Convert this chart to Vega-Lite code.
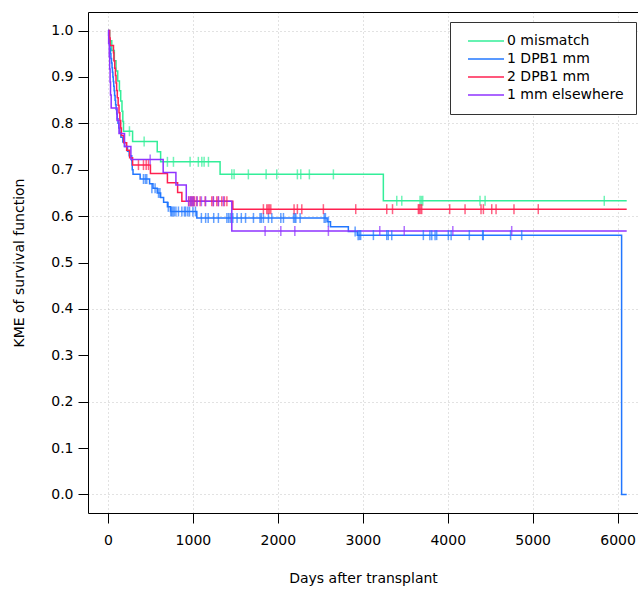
{
  "$schema": "https://vega.github.io/schema/vega-lite/v6.json",
  "width": 550,
  "height": 501,
  "autosize": {"type": "none"},
  "padding": {"left": 88, "top": 12, "right": 0, "bottom": 77},
  "background": "white",
  "config": {
    "view": {"stroke": null},
    "font": "DejaVu Sans",
    "axis": {
      "labelFont": "DejaVu Sans", "labelFontSize": 14, "labelColor": "black",
      "titleFont": "DejaVu Sans", "titleFontSize": 14, "titleFontWeight": "normal", "titleColor": "black",
      "domainColor": "black", "domainWidth": 1, "tickColor": "black", "tickSize": 10, "tickWidth": 1,
      "gridColor": "#c4c4c4", "gridDash": [1, 3], "gridWidth": 1
    },
    "legend": {
      "orient": "none", "legendX": 362, "legendY": 10,
      "symbolType": "stroke", "symbolSize": 1296, "symbolStrokeWidth": 1.5,
      "labelFont": "DejaVu Sans", "labelFontSize": 14, "labelColor": "black",
      "strokeColor": "#333333", "fillColor": "white", "padding": 12,
      "rowPadding": 4, "labelOffset": 2, "clipHeight": 14, "symbolOffset": 5
    }
  },
  "datasets": {
    "curves": [
      {"g": "0 mismatch", "t": 0, "s": 1},
      {"g": "0 mismatch", "t": 20, "s": 0.978},
      {"g": "0 mismatch", "t": 45, "s": 0.957},
      {"g": "0 mismatch", "t": 75, "s": 0.935},
      {"g": "0 mismatch", "t": 95, "s": 0.913},
      {"g": "0 mismatch", "t": 115, "s": 0.891},
      {"g": "0 mismatch", "t": 135, "s": 0.87},
      {"g": "0 mismatch", "t": 150, "s": 0.848},
      {"g": "0 mismatch", "t": 165, "s": 0.826},
      {"g": "0 mismatch", "t": 175, "s": 0.804},
      {"g": "0 mismatch", "t": 183, "s": 0.783},
      {"g": "0 mismatch", "t": 290, "s": 0.761},
      {"g": "0 mismatch", "t": 580, "s": 0.739},
      {"g": "0 mismatch", "t": 620, "s": 0.717},
      {"g": "0 mismatch", "t": 1320, "s": 0.69},
      {"g": "0 mismatch", "t": 3242, "s": 0.633},
      {"g": "0 mismatch", "t": 6107, "s": 0.633},

      {"g": "1 DPB1 mm", "t": 0, "s": 1},
      {"g": "1 DPB1 mm", "t": 8, "s": 0.99},
      {"g": "1 DPB1 mm", "t": 15, "s": 0.98},
      {"g": "1 DPB1 mm", "t": 20, "s": 0.97},
      {"g": "1 DPB1 mm", "t": 25, "s": 0.96},
      {"g": "1 DPB1 mm", "t": 30, "s": 0.95},
      {"g": "1 DPB1 mm", "t": 35, "s": 0.94},
      {"g": "1 DPB1 mm", "t": 42, "s": 0.93},
      {"g": "1 DPB1 mm", "t": 48, "s": 0.92},
      {"g": "1 DPB1 mm", "t": 53, "s": 0.91},
      {"g": "1 DPB1 mm", "t": 58, "s": 0.9},
      {"g": "1 DPB1 mm", "t": 63, "s": 0.89},
      {"g": "1 DPB1 mm", "t": 68, "s": 0.88},
      {"g": "1 DPB1 mm", "t": 73, "s": 0.87},
      {"g": "1 DPB1 mm", "t": 78, "s": 0.86},
      {"g": "1 DPB1 mm", "t": 84, "s": 0.85},
      {"g": "1 DPB1 mm", "t": 90, "s": 0.84},
      {"g": "1 DPB1 mm", "t": 96, "s": 0.83},
      {"g": "1 DPB1 mm", "t": 103, "s": 0.82},
      {"g": "1 DPB1 mm", "t": 110, "s": 0.81},
      {"g": "1 DPB1 mm", "t": 118, "s": 0.8},
      {"g": "1 DPB1 mm", "t": 128, "s": 0.79},
      {"g": "1 DPB1 mm", "t": 140, "s": 0.78},
      {"g": "1 DPB1 mm", "t": 152, "s": 0.77},
      {"g": "1 DPB1 mm", "t": 175, "s": 0.76},
      {"g": "1 DPB1 mm", "t": 195, "s": 0.75},
      {"g": "1 DPB1 mm", "t": 230, "s": 0.74},
      {"g": "1 DPB1 mm", "t": 250, "s": 0.73},
      {"g": "1 DPB1 mm", "t": 280, "s": 0.72},
      {"g": "1 DPB1 mm", "t": 283, "s": 0.71},
      {"g": "1 DPB1 mm", "t": 286, "s": 0.7},
      {"g": "1 DPB1 mm", "t": 295, "s": 0.69},
      {"g": "1 DPB1 mm", "t": 379, "s": 0.68},
      {"g": "1 DPB1 mm", "t": 490, "s": 0.67},
      {"g": "1 DPB1 mm", "t": 530, "s": 0.66},
      {"g": "1 DPB1 mm", "t": 580, "s": 0.65},
      {"g": "1 DPB1 mm", "t": 620, "s": 0.64},
      {"g": "1 DPB1 mm", "t": 655, "s": 0.63},
      {"g": "1 DPB1 mm", "t": 700, "s": 0.62},
      {"g": "1 DPB1 mm", "t": 735, "s": 0.61},
      {"g": "1 DPB1 mm", "t": 1046, "s": 0.596},
      {"g": "1 DPB1 mm", "t": 2580, "s": 0.588},
      {"g": "1 DPB1 mm", "t": 2620, "s": 0.577},
      {"g": "1 DPB1 mm", "t": 2830, "s": 0.567},
      {"g": "1 DPB1 mm", "t": 2935, "s": 0.559},
      {"g": "1 DPB1 mm", "t": 6047, "s": 0},
      {"g": "1 DPB1 mm", "t": 6107, "s": 0},

      {"g": "2 DPB1 mm", "t": 0, "s": 1},
      {"g": "2 DPB1 mm", "t": 20, "s": 0.984},
      {"g": "2 DPB1 mm", "t": 26, "s": 0.968},
      {"g": "2 DPB1 mm", "t": 65, "s": 0.952},
      {"g": "2 DPB1 mm", "t": 70, "s": 0.935},
      {"g": "2 DPB1 mm", "t": 80, "s": 0.919},
      {"g": "2 DPB1 mm", "t": 88, "s": 0.903},
      {"g": "2 DPB1 mm", "t": 95, "s": 0.887},
      {"g": "2 DPB1 mm", "t": 102, "s": 0.871},
      {"g": "2 DPB1 mm", "t": 110, "s": 0.855},
      {"g": "2 DPB1 mm", "t": 120, "s": 0.839},
      {"g": "2 DPB1 mm", "t": 130, "s": 0.823},
      {"g": "2 DPB1 mm", "t": 140, "s": 0.806},
      {"g": "2 DPB1 mm", "t": 150, "s": 0.79},
      {"g": "2 DPB1 mm", "t": 158, "s": 0.774},
      {"g": "2 DPB1 mm", "t": 185, "s": 0.758},
      {"g": "2 DPB1 mm", "t": 220, "s": 0.742},
      {"g": "2 DPB1 mm", "t": 255, "s": 0.726},
      {"g": "2 DPB1 mm", "t": 290, "s": 0.71},
      {"g": "2 DPB1 mm", "t": 500, "s": 0.692},
      {"g": "2 DPB1 mm", "t": 700, "s": 0.672},
      {"g": "2 DPB1 mm", "t": 820, "s": 0.651},
      {"g": "2 DPB1 mm", "t": 870, "s": 0.632},
      {"g": "2 DPB1 mm", "t": 1470, "s": 0.615},
      {"g": "2 DPB1 mm", "t": 6107, "s": 0.615},

      {"g": "1 mm elsewhere", "t": 0, "s": 1},
      {"g": "1 mm elsewhere", "t": 8, "s": 0.972},
      {"g": "1 mm elsewhere", "t": 15, "s": 0.944},
      {"g": "1 mm elsewhere", "t": 20, "s": 0.917},
      {"g": "1 mm elsewhere", "t": 25, "s": 0.889},
      {"g": "1 mm elsewhere", "t": 30, "s": 0.861},
      {"g": "1 mm elsewhere", "t": 38, "s": 0.833},
      {"g": "1 mm elsewhere", "t": 107, "s": 0.806},
      {"g": "1 mm elsewhere", "t": 130, "s": 0.778},
      {"g": "1 mm elsewhere", "t": 195, "s": 0.75},
      {"g": "1 mm elsewhere", "t": 270, "s": 0.722},
      {"g": "1 mm elsewhere", "t": 650, "s": 0.694},
      {"g": "1 mm elsewhere", "t": 800, "s": 0.667},
      {"g": "1 mm elsewhere", "t": 922, "s": 0.632},
      {"g": "1 mm elsewhere", "t": 1458, "s": 0.568},
      {"g": "1 mm elsewhere", "t": 6107, "s": 0.568}
    ],
    "censors": [
      {"g": "0 mismatch", "t": 253, "s": 0.783},
      {"g": "0 mismatch", "t": 426, "s": 0.761},
      {"g": "0 mismatch", "t": 700, "s": 0.717},
      {"g": "0 mismatch", "t": 771, "s": 0.717},
      {"g": "0 mismatch", "t": 967, "s": 0.717},
      {"g": "0 mismatch", "t": 1064, "s": 0.717},
      {"g": "0 mismatch", "t": 1105, "s": 0.717},
      {"g": "0 mismatch", "t": 1132, "s": 0.717},
      {"g": "0 mismatch", "t": 1183, "s": 0.717},
      {"g": "0 mismatch", "t": 1458, "s": 0.69},
      {"g": "0 mismatch", "t": 1485, "s": 0.69},
      {"g": "0 mismatch", "t": 1653, "s": 0.69},
      {"g": "0 mismatch", "t": 1862, "s": 0.69},
      {"g": "0 mismatch", "t": 1987, "s": 0.69},
      {"g": "0 mismatch", "t": 2230, "s": 0.69},
      {"g": "0 mismatch", "t": 2270, "s": 0.69},
      {"g": "0 mismatch", "t": 2371, "s": 0.69},
      {"g": "0 mismatch", "t": 2654, "s": 0.69},
      {"g": "0 mismatch", "t": 3400, "s": 0.633},
      {"g": "0 mismatch", "t": 3459, "s": 0.633},
      {"g": "0 mismatch", "t": 3674, "s": 0.633},
      {"g": "0 mismatch", "t": 3690, "s": 0.633},
      {"g": "0 mismatch", "t": 3706, "s": 0.633},
      {"g": "0 mismatch", "t": 4380, "s": 0.633},
      {"g": "0 mismatch", "t": 4440, "s": 0.633},
      {"g": "0 mismatch", "t": 5843, "s": 0.633},

      {"g": "1 DPB1 mm", "t": 418, "s": 0.68},
      {"g": "1 DPB1 mm", "t": 440, "s": 0.68},
      {"g": "1 DPB1 mm", "t": 457, "s": 0.68},
      {"g": "1 DPB1 mm", "t": 517, "s": 0.66},
      {"g": "1 DPB1 mm", "t": 555, "s": 0.66},
      {"g": "1 DPB1 mm", "t": 595, "s": 0.65},
      {"g": "1 DPB1 mm", "t": 612, "s": 0.65},
      {"g": "1 DPB1 mm", "t": 710, "s": 0.62},
      {"g": "1 DPB1 mm", "t": 740, "s": 0.61},
      {"g": "1 DPB1 mm", "t": 750, "s": 0.61},
      {"g": "1 DPB1 mm", "t": 765, "s": 0.61},
      {"g": "1 DPB1 mm", "t": 780, "s": 0.61},
      {"g": "1 DPB1 mm", "t": 800, "s": 0.61},
      {"g": "1 DPB1 mm", "t": 830, "s": 0.61},
      {"g": "1 DPB1 mm", "t": 870, "s": 0.61},
      {"g": "1 DPB1 mm", "t": 900, "s": 0.61},
      {"g": "1 DPB1 mm", "t": 915, "s": 0.61},
      {"g": "1 DPB1 mm", "t": 940, "s": 0.61},
      {"g": "1 DPB1 mm", "t": 960, "s": 0.61},
      {"g": "1 DPB1 mm", "t": 1000, "s": 0.61},
      {"g": "1 DPB1 mm", "t": 1030, "s": 0.61},
      {"g": "1 DPB1 mm", "t": 1100, "s": 0.596},
      {"g": "1 DPB1 mm", "t": 1150, "s": 0.596},
      {"g": "1 DPB1 mm", "t": 1180, "s": 0.596},
      {"g": "1 DPB1 mm", "t": 1245, "s": 0.596},
      {"g": "1 DPB1 mm", "t": 1300, "s": 0.596},
      {"g": "1 DPB1 mm", "t": 1400, "s": 0.596},
      {"g": "1 DPB1 mm", "t": 1420, "s": 0.596},
      {"g": "1 DPB1 mm", "t": 1440, "s": 0.596},
      {"g": "1 DPB1 mm", "t": 1470, "s": 0.596},
      {"g": "1 DPB1 mm", "t": 1520, "s": 0.596},
      {"g": "1 DPB1 mm", "t": 1570, "s": 0.596},
      {"g": "1 DPB1 mm", "t": 1620, "s": 0.596},
      {"g": "1 DPB1 mm", "t": 1713, "s": 0.596},
      {"g": "1 DPB1 mm", "t": 1790, "s": 0.596},
      {"g": "1 DPB1 mm", "t": 1805, "s": 0.596},
      {"g": "1 DPB1 mm", "t": 1830, "s": 0.596},
      {"g": "1 DPB1 mm", "t": 1889, "s": 0.596},
      {"g": "1 DPB1 mm", "t": 1929, "s": 0.596},
      {"g": "1 DPB1 mm", "t": 2035, "s": 0.596},
      {"g": "1 DPB1 mm", "t": 2066, "s": 0.596},
      {"g": "1 DPB1 mm", "t": 2185, "s": 0.596},
      {"g": "1 DPB1 mm", "t": 2200, "s": 0.596},
      {"g": "1 DPB1 mm", "t": 2212, "s": 0.596},
      {"g": "1 DPB1 mm", "t": 2262, "s": 0.596},
      {"g": "1 DPB1 mm", "t": 2545, "s": 0.596},
      {"g": "1 DPB1 mm", "t": 2560, "s": 0.596},
      {"g": "1 DPB1 mm", "t": 2595, "s": 0.588},
      {"g": "1 DPB1 mm", "t": 2910, "s": 0.567},
      {"g": "1 DPB1 mm", "t": 2945, "s": 0.559},
      {"g": "1 DPB1 mm", "t": 2960, "s": 0.559},
      {"g": "1 DPB1 mm", "t": 2975, "s": 0.559},
      {"g": "1 DPB1 mm", "t": 3125, "s": 0.559},
      {"g": "1 DPB1 mm", "t": 3282, "s": 0.559},
      {"g": "1 DPB1 mm", "t": 3300, "s": 0.559},
      {"g": "1 DPB1 mm", "t": 3341, "s": 0.559},
      {"g": "1 DPB1 mm", "t": 3713, "s": 0.559},
      {"g": "1 DPB1 mm", "t": 3790, "s": 0.559},
      {"g": "1 DPB1 mm", "t": 3812, "s": 0.559},
      {"g": "1 DPB1 mm", "t": 3851, "s": 0.559},
      {"g": "1 DPB1 mm", "t": 3870, "s": 0.559},
      {"g": "1 DPB1 mm", "t": 4007, "s": 0.559},
      {"g": "1 DPB1 mm", "t": 4040, "s": 0.559},
      {"g": "1 DPB1 mm", "t": 4254, "s": 0.559},
      {"g": "1 DPB1 mm", "t": 4411, "s": 0.559},
      {"g": "1 DPB1 mm", "t": 4418, "s": 0.559},
      {"g": "1 DPB1 mm", "t": 4740, "s": 0.559},
      {"g": "1 DPB1 mm", "t": 4871, "s": 0.559},

      {"g": "2 DPB1 mm", "t": 359, "s": 0.71},
      {"g": "2 DPB1 mm", "t": 418, "s": 0.71},
      {"g": "2 DPB1 mm", "t": 450, "s": 0.71},
      {"g": "2 DPB1 mm", "t": 477, "s": 0.71},
      {"g": "2 DPB1 mm", "t": 950, "s": 0.632},
      {"g": "2 DPB1 mm", "t": 967, "s": 0.632},
      {"g": "2 DPB1 mm", "t": 980, "s": 0.632},
      {"g": "2 DPB1 mm", "t": 995, "s": 0.632},
      {"g": "2 DPB1 mm", "t": 1005, "s": 0.632},
      {"g": "2 DPB1 mm", "t": 1020, "s": 0.632},
      {"g": "2 DPB1 mm", "t": 1046, "s": 0.632},
      {"g": "2 DPB1 mm", "t": 1085, "s": 0.632},
      {"g": "2 DPB1 mm", "t": 1144, "s": 0.632},
      {"g": "2 DPB1 mm", "t": 1222, "s": 0.632},
      {"g": "2 DPB1 mm", "t": 1241, "s": 0.632},
      {"g": "2 DPB1 mm", "t": 1281, "s": 0.632},
      {"g": "2 DPB1 mm", "t": 1300, "s": 0.632},
      {"g": "2 DPB1 mm", "t": 1340, "s": 0.632},
      {"g": "2 DPB1 mm", "t": 1371, "s": 0.632},
      {"g": "2 DPB1 mm", "t": 1400, "s": 0.632},
      {"g": "2 DPB1 mm", "t": 1830, "s": 0.615},
      {"g": "2 DPB1 mm", "t": 1870, "s": 0.615},
      {"g": "2 DPB1 mm", "t": 1885, "s": 0.615},
      {"g": "2 DPB1 mm", "t": 1900, "s": 0.615},
      {"g": "2 DPB1 mm", "t": 1917, "s": 0.615},
      {"g": "2 DPB1 mm", "t": 2191, "s": 0.615},
      {"g": "2 DPB1 mm", "t": 2230, "s": 0.615},
      {"g": "2 DPB1 mm", "t": 2282, "s": 0.615},
      {"g": "2 DPB1 mm", "t": 2536, "s": 0.615},
      {"g": "2 DPB1 mm", "t": 2917, "s": 0.615},
      {"g": "2 DPB1 mm", "t": 3282, "s": 0.615},
      {"g": "2 DPB1 mm", "t": 3350, "s": 0.615},
      {"g": "2 DPB1 mm", "t": 3654, "s": 0.615},
      {"g": "2 DPB1 mm", "t": 3665, "s": 0.615},
      {"g": "2 DPB1 mm", "t": 3680, "s": 0.615},
      {"g": "2 DPB1 mm", "t": 3694, "s": 0.615},
      {"g": "2 DPB1 mm", "t": 4023, "s": 0.615},
      {"g": "2 DPB1 mm", "t": 4204, "s": 0.615},
      {"g": "2 DPB1 mm", "t": 4392, "s": 0.615},
      {"g": "2 DPB1 mm", "t": 4420, "s": 0.615},
      {"g": "2 DPB1 mm", "t": 4518, "s": 0.615},
      {"g": "2 DPB1 mm", "t": 4569, "s": 0.615},
      {"g": "2 DPB1 mm", "t": 4780, "s": 0.615},
      {"g": "2 DPB1 mm", "t": 5066, "s": 0.615},

      {"g": "1 mm elsewhere", "t": 497, "s": 0.722},
      {"g": "1 mm elsewhere", "t": 950, "s": 0.632},
      {"g": "1 mm elsewhere", "t": 975, "s": 0.632},
      {"g": "1 mm elsewhere", "t": 990, "s": 0.632},
      {"g": "1 mm elsewhere", "t": 1010, "s": 0.632},
      {"g": "1 mm elsewhere", "t": 1050, "s": 0.632},
      {"g": "1 mm elsewhere", "t": 1100, "s": 0.632},
      {"g": "1 mm elsewhere", "t": 1150, "s": 0.632},
      {"g": "1 mm elsewhere", "t": 1240, "s": 0.632},
      {"g": "1 mm elsewhere", "t": 1300, "s": 0.632},
      {"g": "1 mm elsewhere", "t": 1360, "s": 0.632},
      {"g": "1 mm elsewhere", "t": 1850, "s": 0.568},
      {"g": "1 mm elsewhere", "t": 2035, "s": 0.568},
      {"g": "1 mm elsewhere", "t": 2200, "s": 0.568},
      {"g": "1 mm elsewhere", "t": 2595, "s": 0.568},
      {"g": "1 mm elsewhere", "t": 3200, "s": 0.568},
      {"g": "1 mm elsewhere", "t": 3488, "s": 0.568},
      {"g": "1 mm elsewhere", "t": 4060, "s": 0.568},
      {"g": "1 mm elsewhere", "t": 4753, "s": 0.568}
    ]
  },
  "layer": [
    {
      "data": {"name": "curves"},
      "mark": {"type": "line", "interpolate": "step-after", "strokeWidth": 1.5},
      "encoding": {
        "x": {
          "field": "t", "type": "quantitative",
          "scale": {"domain": [-235, 6240], "nice": false, "zero": false},
          "axis": {"values": [0, 1000, 2000, 3000, 4000, 5000, 6000], "format": "d", "title": "Days after transplant",
                   "grid": true, "labelPadding": 10, "titlePadding": 24, "labelFlush": false}
        },
        "y": {
          "field": "s", "type": "quantitative",
          "scale": {"domain": [-0.04, 1.04], "nice": false, "zero": false},
          "axis": {"values": [0, 0.1, 0.2, 0.3, 0.4, 0.5, 0.6, 0.7, 0.8, 0.9, 1], "format": ".1f",
                   "title": "KME of survival function", "grid": true,
                   "gridOpacity": {"condition": {"test": "round(datum.value*10) % 2 === 0", "value": 1}, "value": 0},
                   "labelPadding": 5, "titlePadding": 24, "labelFlush": false}
        },
        "color": {
          "field": "g", "type": "nominal",
          "scale": {"domain": ["0 mismatch", "1 DPB1 mm", "2 DPB1 mm", "1 mm elsewhere"],
                    "range": ["#33EE99", "#2277FF", "#FF2050", "#8F33FF"]},
          "legend": {"title": null}
        }
      }
    },
    {
      "data": {"name": "censors"},
      "mark": {"type": "tick", "orient": "vertical", "size": 10, "thickness": 1.5},
      "encoding": {
        "x": {
          "field": "t", "type": "quantitative",
          "axis": {"orient": "top", "labels": false, "ticks": false, "title": null, "grid": false, "domain": true}
        },
        "y": {"field": "s", "type": "quantitative"},
        "color": {"field": "g", "type": "nominal", "legend": null}
      }
    }
  ],
  "resolve": {"axis": {"x": "independent"}}
}
